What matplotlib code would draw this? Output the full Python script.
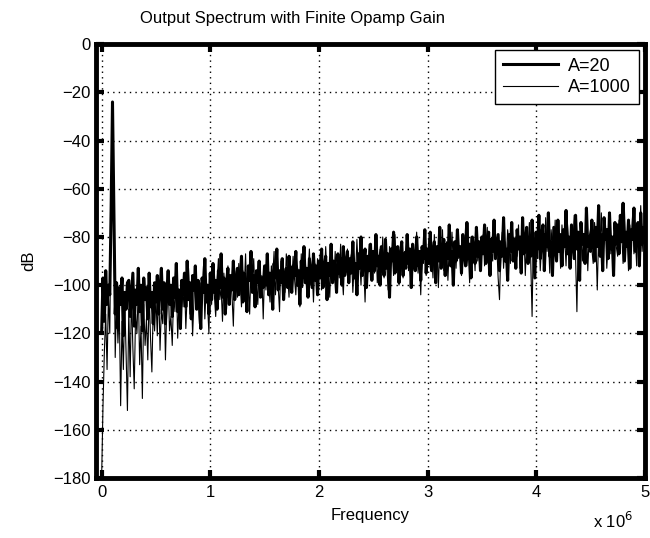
import numpy as np
import matplotlib.pyplot as plt

plt.rcParams['font.family'] = ['Liberation Sans', 'DejaVu Sans']

# frequency grid: 0 to 5 MHz in 12.5 kHz steps
freq_step = 12.5e3
n_points = 401

# output spectrum (dB), opamp gain A=20
a20_db = [
    -120, -97, -115, -94, -108, -100, -104, -68, -24, -68, -112, -99, -118, -101, -108, -97, -121, -103, -110, -99,
    -98, -113, -104, -95, -117, -102, -108, -93, -111, -100, -119, -97, -106, -101, -114, -95, -109, -103, -116, -99,
    -107, -96, -112, -101, -93, -110, -99, -116, -103, -94, -108, -100, -113, -97, -105, -91, -111, -102, -118, -98,
    -104, -95, -109, -90, -106, -99, -114, -96, -102, -92, -110, -98, -105, -118, -97, -103, -89, -107, -100, -112,
    -95, -106, -91, -103, -98, -110, -94, -101, -87, -105, -97, -112, -99, -93, -108, -96, -102, -90, -106, -99,
    -93, -104, -97, -88, -107, -95, -100, -111, -92, -98, -86, -103, -96, -109, -94, -99, -90, -105, -97, -101,
    -92, -100, -87, -104, -95, -98, -110, -91, -97, -85, -102, -94, -99, -89, -106, -96, -93, -101, -88, -97,
    -103, -92, -96, -86, -100, -94, -108, -90, -97, -84, -99, -93, -105, -89, -95, -101, -87, -98, -92, -104,
    -90, -97, -85, -101, -93, -88, -106, -91, -96, -83, -99, -90, -94, -103, -87, -95, -89, -100, -84, -96,
    -92, -86, -99, -89, -95, -82, -97, -91, -104, -87, -93, -80, -96, -90, -85, -101, -88, -94, -83, -98,
    -86, -94, -79, -92, -88, -100, -84, -91, -96, -81, -93, -87, -105, -85, -90, -78, -95, -89, -84, -99,
    -88, -82, -96, -87, -93, -79, -91, -85, -101, -83, -90, -94, -80, -92, -86, -98, -84, -89, -77, -95,
    -85, -91, -78, -94, -87, -82, -99, -84, -90, -76, -93, -86, -81, -96, -83, -89, -75, -92, -86, -100,
    -82, -90, -77, -88, -84, -95, -79, -87, -92, -74, -89, -83, -97, -80, -86, -91, -76, -88, -82, -94,
    -80, -87, -75, -91, -83, -78, -96, -81, -86, -73, -89, -84, -79, -94, -82, -88, -72, -90, -85, -98,
    -79, -86, -74, -90, -81, -93, -77, -85, -80, -95, -72, -87, -83, -76, -91, -80, -88, -73, -85, -97,
    -78, -85, -71, -89, -80, -75, -94, -79, -84, -70, -88, -82, -96, -76, -83, -90, -73, -86, -79, -92,
    -77, -84, -69, -87, -80, -93, -75, -82, -89, -71, -85, -78, -98, -74, -83, -79, -91, -68, -84, -80,
    -86, -73, -82, -90, -76, -84, -67, -88, -79, -94, -72, -81, -77, -89, -70, -85, -80, -96, -74, -83,
    -75, -87, -71, -82, -66, -90, -78, -84, -73, -93, -77, -81, -68, -86, -79, -74, -92, -70, -83, -76,
    -80,
]

# output spectrum (dB), opamp gain A=1000
a1000_db = [
    -180, -150, -128, -112, -135, -104, -120, -68, -24, -68, -130, -105, -124, -110, -150, -115, -135, -106, -128, -152,
    -110, -138, -104, -126, -143, -112, -120, -101, -133, -117, -147, -108, -125, -114, -131, -103, -122, -136, -109, -119,
    -105, -121, -99, -127, -110, -116, -102, -131, -108, -98, -119, -113, -125, -104, -111, -96, -122, -107, -115, -101,
    -109, -97, -118, -104, -93, -112, -100, -121, -106, -95, -110, -103, -116, -99, -107, -92, -114, -101, -108, -120,
    -97, -108, -93, -104, -113, -99, -89, -106, -101, -115, -95, -103, -110, -92, -107, -98, -104, -117, -94, -100,
    -105, -91, -99, -109, -94, -102, -87, -106, -97, -112, -93, -100, -89, -104, -98, -108, -92, -101, -96, -114,
    -94, -102, -89, -99, -107, -92, -97, -86, -104, -95, -100, -111, -90, -98, -93, -103, -87, -96, -105, -91,
    -99, -88, -97, -104, -92, -95, -109, -87, -101, -94, -90, -103, -96, -85, -100, -93, -107, -91, -98, -89,
    -95, -87, -102, -91, -98, -84, -96, -92, -105, -89, -94, -99, -86, -101, -90, -97, -83, -95, -104, -88,
    -93, -85, -98, -90, -87, -103, -91, -96, -81, -94, -89, -100, -86, -92, -107, -88, -95, -83, -97, -90,
    -87, -95, -82, -99, -90, -85, -94, -80, -97, -88, -92, -102, -84, -91, -86, -96, -79, -93, -89, -100,
    -91, -84, -97, -86, -90, -80, -94, -88, -99, -83, -92, -87, -78, -95, -89, -104, -85, -91, -82, -96,
    -88, -81, -93, -86, -97, -79, -90, -85, -101, -83, -89, -77, -94, -87, -82, -98, -84, -91, -78, -92,
    -85, -93, -79, -89, -84, -96, -81, -88, -76, -92, -86, -99, -80, -87, -83, -94, -78, -90, -85, -82,
    -87, -79, -92, -83, -76, -95, -81, -86, -90, -74, -88, -84, -97, -106, -85, -78, -93, -82, -89, -77,
    -84, -91, -78, -86, -86, -80, -88, -75, -93, -82, -87, -79, -96, -81, -85, -74, -90, -113, -77, -92,
    -81, -89, -76, -94, -83, -78, -91, -72, -86, -80, -95, -77, -84, -88, -73, -90, -82, -79, -93, -75,
    -86, -80, -92, -74, -83, -89, -78, -85, -71, -88, -111, -79, -84, -76, -90, -81, -87, -73, -94, -80,
    -77, -85, -91, -74, -82, -102, -79, -86, -70, -89, -81, -76, -93, -83, -72, -87, -80, -95, -75, -84,
    -88, -73, -82, -78, -91, -69, -84, -80, -94, -75, -83, -71, -87, -79, -92, -74, -81, -67, -86, -77,
    -78,
]

freqs = np.arange(n_points) * freq_step

fig = plt.figure(figsize=(6.5, 5.38), dpi=100)
ax = fig.add_axes([0.148, 0.1115, 0.844, 0.8065])

ax.plot(freqs, a20_db, color='black', linewidth=2.2, label='A=20')
ax.plot(freqs, a1000_db, color='black', linewidth=0.8, label='A=1000')

ax.set_xlim(-0.05e6, 5e6)
ax.set_ylim(-180, 0)
ax.set_xticks(np.arange(0, 6) * 1e6)
ax.set_xticklabels([str(i) for i in range(6)])
ax.set_yticks(np.arange(-180, 1, 20))
ax.set_yticklabels(['\u2212%d' % abs(v) if v else '0' for v in range(-180, 1, 20)])

ax.grid(True, color='black', linestyle=(0, (1, 3)), linewidth=1.0)
ax.tick_params(direction='in', length=6, width=3, top=True, right=True,
               labelsize=12)
ax.tick_params(axis='x', pad=5)
ax.tick_params(axis='y', pad=4)
for side in ax.spines.values():
    side.set_linewidth(3.5)

leg = ax.legend(loc='upper right', fontsize=13, fancybox=False, framealpha=1,
                edgecolor='black', borderaxespad=0.3, handlelength=3.0,
                labelspacing=0.25, borderpad=0.45, handletextpad=0.6)
leg.get_frame().set_linewidth(1.0)

fig.text(0.45, 0.965, 'Output Spectrum with Finite Opamp Gain', ha='center',
         va='center', fontsize=12)
ax.set_xlabel('Frequency', fontsize=12, labelpad=6)
ax.set_ylabel('dB', fontsize=12, labelpad=12)
fig.text(0.913, 0.032, r'x 10$^6$', ha='left', va='center', fontsize=12)

fig.savefig('out.png', dpi=100)
